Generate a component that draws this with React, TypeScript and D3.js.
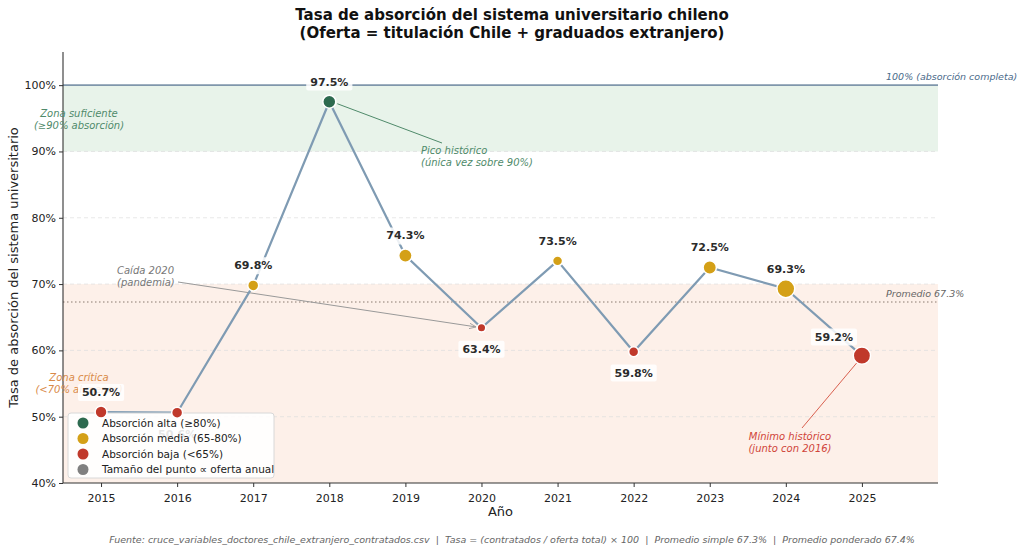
import React, { useEffect, useRef } from "react";
import * as d3 from "d3";

// datos
const years = [2015, 2016, 2017, 2018, 2019, 2020, 2021, 2022, 2023, 2024, 2025];
const tasa = [50.7, 50.6, 69.8, 97.5, 74.3, 63.4, 73.5, 59.8, 72.5, 69.3, 59.2];
const oferta = [66, 56, 56, 78, 82, 34, 46, 46, 82, 148, 138];
const yTicks = [40, 50, 60, 70, 80, 90, 100];
const promedio = 67.3;
const legendLabels = [
  "Absorción alta (≥80%)",
  "Absorción media (65-80%)",
  "Absorción baja (<65%)",
  "Tamaño del punto ∝ oferta anual",
];
const legendColors = ["#2d6a4f", "#d4a017", "#c0392b", "#808080"];

const W = 1024;
const H = 554;
const M = { left: 63, right: 938, top: 52, bottom: 483 };
const FONT = "'DejaVu Sans', sans-serif";

const colorFor = (v: number) => (v >= 80 ? legendColors[0] : v >= 65 ? legendColors[1] : legendColors[2]);

const App = () => {
  const ref = useRef<SVGSVGElement>(null);

  useEffect(() => {
    const svg = d3.select(ref.current);
    svg.selectAll("*").remove();
    svg.style("font-family", FONT);

    const x = d3.scaleLinear().domain([2014.5, 2026]).range([M.left, M.right]);
    const y = d3.scaleLinear().domain([40, 105]).range([M.bottom, M.top]);
    const r = d3.scaleSqrt().domain([0, 150]).range([0, 9]);

    const defs = svg.append("defs");
    defs
      .append("marker")
      .attr("id", "arrow")
      .attr("viewBox", "0 0 10 10")
      .attr("refX", 9)
      .attr("refY", 5)
      .attr("markerWidth", 7)
      .attr("markerHeight", 7)
      .attr("orient", "auto")
      .append("path")
      .attr("d", "M0,1 L10,5 L0,9")
      .attr("fill", "none")
      .attr("stroke", "#999")
      .attr("stroke-width", 1.2);

    // zonas
    svg.append("rect")
      .attr("x", M.left).attr("width", M.right - M.left)
      .attr("y", y(100)).attr("height", y(90) - y(100))
      .attr("fill", "#e8f3ea");
    svg.append("rect")
      .attr("x", M.left).attr("width", M.right - M.left)
      .attr("y", y(70)).attr("height", y(40) - y(70))
      .attr("fill", "#fdf0e9");

    // grid
    svg.append("g")
      .selectAll("line")
      .data(yTicks.filter((t) => t > 40 && t < 100))
      .enter()
      .append("line")
      .attr("x1", M.left).attr("x2", M.right)
      .attr("y1", (d) => y(d)).attr("y2", (d) => y(d))
      .attr("stroke", "#dcdcdc").attr("stroke-dasharray", "4,3").attr("stroke-width", 0.7);

    // 100% line
    svg.append("line")
      .attr("x1", M.left).attr("x2", M.right)
      .attr("y1", y(100)).attr("y2", y(100))
      .attr("stroke", "#7f96ab").attr("stroke-width", 1.6);
    svg.append("text")
      .attr("x", 886).attr("y", y(100) - 5)
      .attr("font-size", 9.5).attr("font-style", "italic").attr("fill", "#4a6a8a")
      .text("100% (absorción completa)");

    // promedio
    svg.append("line")
      .attr("x1", M.left).attr("x2", M.right)
      .attr("y1", y(promedio)).attr("y2", y(promedio))
      .attr("stroke", "#8a7a70").attr("stroke-dasharray", "1.5,2.5").attr("stroke-width", 1.2);
    svg.append("text")
      .attr("x", 886).attr("y", y(promedio) - 5)
      .attr("font-size", 9.5).attr("font-style", "italic").attr("fill", "#666")
      .text(`Promedio ${promedio}%`);

    // axes
    const xAxis = svg.append("g")
      .attr("transform", `translate(0,${M.bottom})`)
      .call(d3.axisBottom(x).tickValues(years).tickFormat(d3.format("d")).tickSizeOuter(0).tickSize(4));
    xAxis.select(".domain").attr("d", `M${M.left},0H${M.right}`).attr("stroke", "#333").attr("stroke-width", 1.1);
    xAxis.selectAll("text").attr("font-size", 11).attr("font-family", FONT).attr("fill", "#222").attr("dy", "1.05em");
    xAxis.selectAll(".tick line").attr("stroke", "#333");

    const yAxis = svg.append("g")
      .attr("transform", `translate(${M.left},0)`)
      .call(d3.axisLeft(y).tickValues(yTicks).tickFormat((d) => `${d}%`).tickSizeOuter(0).tickSize(4));
    yAxis.select(".domain").attr("d", `M0,${M.top}V${M.bottom}`).attr("stroke", "#333").attr("stroke-width", 1.1);
    yAxis.selectAll("text").attr("font-size", 11).attr("font-family", FONT).attr("fill", "#222");
    yAxis.selectAll(".tick line").attr("stroke", "#333");

    // axis titles
    svg.append("text")
      .attr("x", (M.left + M.right) / 2).attr("y", 516)
      .attr("text-anchor", "middle").attr("font-size", 13).attr("fill", "#222")
      .text("Año");
    svg.append("text")
      .attr("transform", `translate(18,${(M.top + M.bottom) / 2}) rotate(-90)`)
      .attr("text-anchor", "middle").attr("font-size", 13).attr("fill", "#222")
      .text("Tasa de absorción del sistema universitario");

    // title
    const title = svg.append("text").attr("text-anchor", "middle").attr("font-size", 15).attr("font-weight", "bold").attr("fill", "#111");
    title.append("tspan").attr("x", W / 2).attr("y", 20).text("Tasa de absorción del sistema universitario chileno");
    title.append("tspan").attr("x", W / 2).attr("y", 38).text("(Oferta = titulación Chile + graduados extranjero)");

    // zone labels
    const italic2 = (lines: string[], px: number, py: number, color: string, anchor: string, size = 10) => {
      const t = svg.append("text").attr("text-anchor", anchor).attr("font-size", size).attr("font-style", "italic").attr("fill", color);
      lines.forEach((l, i) => t.append("tspan").attr("x", px).attr("y", py + i * 11.5).text(l));
      return t;
    };
    italic2(["Zona suficiente", "(≥90% absorción)"], 79, 117, "#4f8a6a", "middle");
    italic2(["Zona crítica", "(<70% al menos)"], 79, 381, "#d98a48", "middle");

    // annotations
    svg.append("line")
      .attr("x1", 178).attr("y1", 282).attr("x2", x(2020) - 6).attr("y2", y(63.4) - 1)
      .attr("stroke", "#999").attr("stroke-width", 1).attr("marker-end", "url(#arrow)");
    italic2(["Caída 2020", "(pandemia)"], 117, 274, "#777", "start");

    svg.append("line")
      .attr("x1", x(2018) + 8).attr("y1", y(97.5) + 2).attr("x2", 442).attr("y2", 143)
      .attr("stroke", "#4f8a6a").attr("stroke-width", 1);
    italic2(["Pico histórico", "(única vez sobre 90%)"], 421, 154, "#4f8a6a", "start");

    svg.append("line")
      .attr("x1", x(2025) - 5).attr("y1", y(59.2) + 7).attr("x2", 802).attr("y2", 428)
      .attr("stroke", "#d9604f").attr("stroke-width", 1);
    italic2(["Mínimo histórico", "(junto con 2016)"], 790, 440, "#d0453a", "middle");

    // line
    const pts = years.map((yr, i) => ({ year: yr, v: tasa[i], o: oferta[i] }));
    svg.append("path")
      .datum(pts)
      .attr("fill", "none")
      .attr("stroke", "#7f9bb3")
      .attr("stroke-width", 2.2)
      .attr("d", d3.line<any>().x((d) => x(d.year)).y((d) => y(d.v)));

    const dots = svg.append("g");

    // value labels
    const lab = svg.append("g");
    pts.forEach((d, i) => {
      const prev = pts[i - 1];
      const next = pts[i + 1];
      let dx = 0;
      let dy = -20;
      if (!next) {
        dx = -28;
        dy = -19;
      } else if (prev && d.v < prev.v && d.v < next.v) {
        dy = 21;
      }
      const g = lab.append("g").attr("transform", `translate(${x(d.year) + dx},${y(d.v) + dy})`);
      const bg = g.append("rect").attr("fill", "white").attr("fill-opacity", 0.85).attr("rx", 2);
      const t = g.append("text")
        .attr("text-anchor", "middle").attr("dy", "0.35em")
        .attr("font-size", 11).attr("font-weight", "bold").attr("fill", "#2b2b2b")
        .text(`${d.v.toFixed(1)}%`);
      const bb = (t.node() as SVGTextElement).getBBox();
      bg.attr("x", bb.x - 4).attr("y", bb.y - 2).attr("width", bb.width + 8).attr("height", bb.height + 4);
    });

    // legend
    const lg = svg.append("g").attr("transform", "translate(68,413)");
    lg.append("rect")
      .attr("width", 206).attr("height", 65).attr("rx", 3)
      .attr("fill", "white").attr("fill-opacity", 0.88).attr("stroke", "#d8d8d8");
    legendLabels.forEach((l, i) => {
      lg.append("circle").attr("cx", 15).attr("cy", 10 + i * 15.5).attr("r", 5.5).attr("fill", legendColors[i]);
      lg.append("text").attr("x", 34).attr("y", 10 + i * 15.5).attr("dy", "0.35em")
        .attr("font-size", 10.5).attr("fill", "#222").text(l);
    });

    // dots drawn over the legend edge
    dots
      .selectAll("circle")
      .data(pts)
      .enter()
      .append("circle")
      .attr("cx", (d) => x(d.year))
      .attr("cy", (d) => y(d.v))
      .attr("r", (d) => r(d.o))
      .attr("fill", (d) => colorFor(d.v))
      .attr("stroke", "white")
      .attr("stroke-width", 1.5);
    dots.raise();

    // caption
    svg.append("text")
      .attr("x", W / 2).attr("y", 543)
      .attr("text-anchor", "middle").attr("font-size", 9.5).attr("font-style", "italic").attr("fill", "#666")
      .style("white-space", "pre")
      .text("Fuente: cruce_variables_doctores_chile_extranjero_contratados.csv  |  Tasa = (contratados / oferta total) × 100  |  Promedio simple 67.3%  |  Promedio ponderado 67.4%");
  }, []);

  return (
    <svg
      ref={ref}
      width={W}
      height={H}
      style={{ position: "absolute", left: 0, top: 0, background: "white" }}
    />
  );
};

export default App;
